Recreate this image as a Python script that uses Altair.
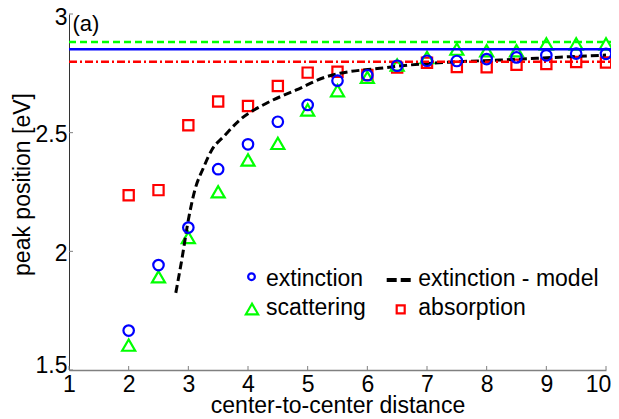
import altair as alt
import pandas as pd

# ---------------- data ----------------
distance = [2, 2.5, 3, 3.5, 4, 4.5, 5, 5.5, 6, 6.5, 7, 7.5, 8, 8.5, 9, 9.5, 10]
extinction = [1.666, 1.942, 2.100, 2.346, 2.451, 2.546, 2.617, 2.719, 2.742,
              2.782, 2.803, 2.802, 2.810, 2.817, 2.826, 2.833, 2.832]
scattering = [1.605, 1.893, 2.058, 2.251, 2.385, 2.455, 2.596, 2.677, 2.733,
              2.785, 2.817, 2.852, 2.845, 2.845, 2.874, 2.874, 2.874]
absorption = [2.236, 2.258, 2.531, 2.631, 2.612, 2.697, 2.753, 2.757, 2.743,
              2.774, 2.795, 2.777, 2.776, 2.786, 2.789, 2.798, 2.796]

model_x = [2.79, 2.89, 3.0, 3.11, 3.25, 3.4, 3.59, 3.86, 4.31, 4.81, 5.32,
           5.54, 6.21, 6.88, 7.55, 8.22, 9.22, 10.0]
model_y = [1.825, 1.964, 2.132, 2.259, 2.350, 2.430, 2.483, 2.553, 2.624,
           2.680, 2.736, 2.750, 2.771, 2.789, 2.799, 2.806, 2.818, 2.827]

limit_x = [1, 10.2]
limit_extinction = 2.851
limit_scattering = 2.882
limit_absorption = 2.799

x_ticks = [1, 2, 3, 4, 5, 6, 7, 8, 9, 10]
y_ticks = [1.5, 2, 2.5, 3]

legend_labels = ["extinction", "scattering", "extinction - model", "absorption"]

# ---------------- styling ----------------
W, H = 537, 356
FONT = "Liberation Sans"
FS = 23
BLUE, GREEN, RED = "#0000ff", "#00ff00", "#ff0000"

xs = alt.Scale(domain=[1, 10], nice=False, zero=False)
ys = alt.Scale(domain=[1.5, 3], nice=False, zero=False)

x_axis = alt.Axis(values=x_ticks, format="d", ticks=False, grid=False,
                  domainColor="#808080", domainWidth=1.5,
                  labelFont=FONT, labelFontSize=FS, labelColor="black",
                  labelPadding=3, labelFlush=False,
                  labelOffset={"condition": {"test": "datum.value == 10",
                                             "value": -8},
                               "value": 0},
                  title="center-to-center distance", titleFont=FONT,
                  titleFontSize=FS, titleFontWeight="normal", titleColor="black",
                  titleY=42, titleBaseline="alphabetic")
y_axis = alt.Axis(values=y_ticks, format="~g", ticks=False, grid=False,
                  domainColor="#333333", domainWidth=1,
                  labelFont=FONT, labelFontSize=FS, labelColor="black",
                  labelPadding=2, labelFlush=False,
                  labelBaseline={"condition": {"test": "datum.value == 1.5",
                                               "value": "alphabetic"},
                                 "value": "middle"},
                  labelOffset={"condition": {"test": "datum.value == 3",
                                             "value": 3},
                               "value": 2},
                  title="peak position [eV]", titleFont=FONT, titleFontSize=FS,
                  titleFontWeight="normal", titleColor="black",
                  titleAngle=270, titleX=-40, titleY=170,
                  titleAlign="center", titleBaseline="alphabetic")

def X(field):
    return alt.X(field, scale=xs, axis=x_axis)

def Y(field):
    return alt.Y(field, scale=ys, axis=y_axis)

pts = pd.DataFrame({"x": distance, "ext": extinction, "sca": scattering,
                    "abs": absorption})
model = pd.DataFrame({"x": model_x, "y": model_y})

def hline(level):
    return pd.DataFrame({"x": [limit_x[0]], "x2": [limit_x[1]], "y": [level]})

# inward tick marks
xt = alt.Chart(pd.DataFrame({"t": x_ticks})).mark_rule(color="#808080", strokeWidth=1).encode(
    x=X("t:Q"), y=alt.value(H), y2=alt.value(H - 4))
yt = alt.Chart(pd.DataFrame({"t": y_ticks})).mark_rule(color="#808080", strokeWidth=1).encode(
    y=Y("t:Q"), x=alt.value(0), x2=alt.value(4))

sq = alt.Chart(pts).mark_point(shape="square", filled=False, color=RED,
                               strokeWidth=2.2, size=105, opacity=1).encode(
    x=X("x:Q"), y=Y("abs:Q"))
tri = alt.Chart(pts).mark_point(shape="triangle-up", filled=False, color=GREEN,
                                strokeWidth=2.2, size=170, opacity=1).encode(
    x=X("x:Q"), y=Y("sca:Q"))
circ = alt.Chart(pts).mark_point(shape="circle", filled=False, color=BLUE,
                                 strokeWidth=2.2, size=110, opacity=1).encode(
    x=X("x:Q"), y=Y("ext:Q"))

mline = alt.Chart(model).mark_line(color="black", strokeWidth=3,
                                   strokeDash=[8, 4], interpolate="monotone").encode(
    x=X("x:Q"), y=Y("y:Q"))

def limit_rule(level, color, dash):
    kw = dict(color=color, strokeWidth=2.5, clip=False)
    if dash:
        kw["strokeDash"] = dash
    return alt.Chart(hline(level)).mark_rule(**kw).encode(
        x=X("x:Q"), x2="x2:Q", y=Y("y:Q"))

l_sca = limit_rule(limit_scattering, GREEN, [7, 4])
l_abs = limit_rule(limit_absorption, RED, [8, 3, 2, 3])
l_ext = limit_rule(limit_extinction, BLUE, None)

# "(a)" label
panel = alt.Chart(pd.DataFrame({"t": ["(a)"]})).mark_text(
    align="left", baseline="alphabetic", font=FONT, fontSize=22, color="black").encode(
    text="t:N", x=alt.value(3.5), y=alt.value(17))

# legend (drawn manually)
def leg_text(label, px, py):
    return alt.Chart(pd.DataFrame({"t": [label]})).mark_text(
        align="left", baseline="alphabetic", font=FONT, fontSize=FS, color="black").encode(
        text="t:N", x=alt.value(px), y=alt.value(py))

def leg_sym(shape, color, size, px, py):
    return alt.Chart(pd.DataFrame({"t": [shape]})).mark_point(
        shape=shape, filled=False, color=color, strokeWidth=2.2, size=size, opacity=1).encode(
        x=alt.value(px), y=alt.value(py))

leg = [
    leg_sym("circle", BLUE, 45, 182.5, 262.7),
    leg_text(legend_labels[0], 197, 272),
    leg_sym("triangle-up", GREEN, 150, 183, 295),
    leg_text(legend_labels[1], 197, 301),
    alt.Chart(pd.DataFrame({"t": [legend_labels[2]]})).mark_rule(
        color="black", strokeWidth=4, strokeDash=[10, 4]).encode(
        x=alt.value(317.7), x2=alt.value(342.7), y=alt.value(266)),
    leg_text(legend_labels[2], 349.3, 272),
    leg_sym("square", RED, 64, 331.7, 295.3),
    leg_text(legend_labels[3], 349.3, 301),
]

chart = alt.layer(xt, yt, sq, tri, mline, l_sca, l_abs, l_ext, circ, panel, *leg).properties(
    width=W, height=H,
    autosize=alt.AutoSizeParams(type="none"),
    padding={"left": 61, "top": 6, "right": 5, "bottom": 44},
).configure_view(stroke=None)

chart.save("out.html", embed_options={"renderer": "svg", "actions": False})
